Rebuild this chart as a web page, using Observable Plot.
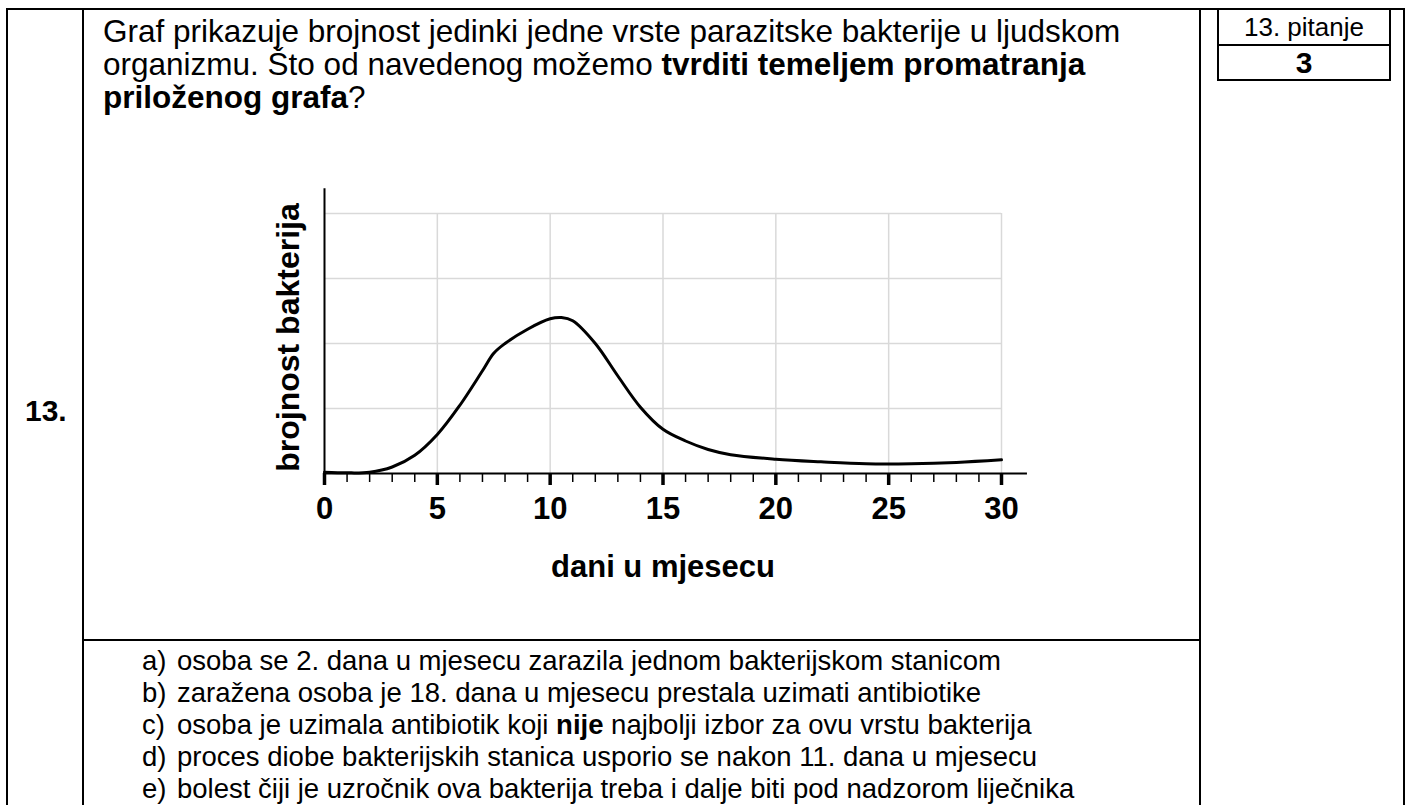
<!DOCTYPE html>
<html>
<head>
<meta charset="utf-8">
<script src="https://cdn.jsdelivr.net/npm/d3@7"></script>
<script src="https://cdn.jsdelivr.net/npm/@observablehq/plot@0.6"></script>
<style>
  html, body { margin: 0; padding: 0; background: #fff; }
  body { width: 1413px; height: 805px; position: relative; overflow: hidden;
         font-family: "Liberation Sans", Arial, sans-serif; color: #000; }
  .ln { position: absolute; background: #000; }
  .txt { position: absolute; white-space: nowrap; }
  #chart { position: absolute; left: 230px; top: 170px; }
</style>
</head>
<body>
<!-- table lines -->
<div class="ln" style="left:6px; top:8px; width:1399px; height:2px;"></div>
<div class="ln" style="left:6px; top:8px; width:2px; height:800px;"></div>
<div class="ln" style="left:82px; top:8px; width:2px; height:800px;"></div>
<div class="ln" style="left:1199px; top:8px; width:2px; height:800px;"></div>
<div class="ln" style="left:1403px; top:8px; width:2px; height:800px;"></div>
<div class="ln" style="left:82px; top:639px; width:1119px; height:2px;"></div>
<!-- score box -->
<div class="ln" style="left:1217px; top:8px; width:2px; height:73px;"></div>
<div class="ln" style="left:1389px; top:8px; width:2px; height:73px;"></div>
<div class="ln" style="left:1217px; top:44px; width:174px; height:2px;"></div>
<div class="ln" style="left:1217px; top:79px; width:174px; height:2px;"></div>
<div class="txt" style="left:1219px; width:170px; top:10px; text-align:center; font-size:26px; line-height:34px;">13. pitanje</div>
<div class="txt" style="left:1219px; width:170px; top:46px; text-align:center; font-size:30px; font-weight:bold; line-height:33px;">3</div>

<div class="txt" style="left:25px; top:393px; font-size:30px; font-weight:bold; line-height:36px;">13.</div>

<div id="question" class="txt" style="left:103px; top:15px; font-size:31.5px; line-height:33px;"></div>
<div id="answers" class="txt" style="left:142px; top:645px; font-size:27.5px; line-height:32px;"></div>

<div id="chart"></div>

<script>
// ---- data ----
const days =   [0,    1,    2,    3,   4,    5,   6,    7,    7.5,  8,   9,    10,   10.5, 11,   12,  13,  14,   15,   16,  17,   18,   20,   22,   24,   26,   28,   30];
const counts = [0.02, 0.01, 0.02, 0.1, 0.28, 0.6, 1.05, 1.58, 1.85, 2.0, 2.22, 2.38, 2.4,  2.35, 2.0, 1.5, 1.02, 0.68, 0.5, 0.37, 0.29, 0.22, 0.18, 0.15, 0.15, 0.17, 0.21];
const xTicks = [0, 5, 10, 15, 20, 25, 30];
const xMinorTicks = d3.range(0, 31);
const yGrid = [1, 2, 3, 4];
const xGrid = [5, 10, 15, 20, 25, 30];
const xLabel = "dani u mjesecu";
const yLabel = "brojnost bakterija";
const xAxisEnd = 31.15;
const yAxisEnd = 4.38;

const questionParts = [
  ["Graf prikazuje brojnost jedinki jedne vrste parazitske bakterije u ljudskom", false, true],
  ["organizmu. Što od navedenog možemo ", false, false],
  ["tvrditi temeljem promatranja", true, true],
  ["priloženog grafa", true, false],
  ["?", false, true]
];
const answerLetters = ["a)", "b)", "c)", "d)", "e)"];
const answers = [
  [["osoba se 2. dana u mjesecu zarazila jednom bakterijskom stanicom", false]],
  [["zaražena osoba je 18. dana u mjesecu prestala uzimati antibiotike", false]],
  [["osoba je uzimala antibiotik koji ", false], ["nije", true], [" najbolji izbor za ovu vrstu bakterija", false]],
  [["proces diobe bakterijskih stanica usporio se nakon 11. dana u mjesecu", false]],
  [["bolest čiji je uzročnik ova bakterija treba i dalje biti pod nadzorom liječnika", false]]
];

// ---- text ----
const q = document.getElementById("question");
for (const [t, b, br] of questionParts) {
  const s = document.createElement("span");
  s.textContent = t;
  if (b) s.style.fontWeight = "bold";
  q.appendChild(s);
  if (br) q.appendChild(document.createElement("br"));
}
const a = document.getElementById("answers");
answers.forEach((parts, i) => {
  const row = document.createElement("div");
  row.style.position = "relative";
  const l = document.createElement("span");
  l.textContent = answerLetters[i];
  l.style.display = "inline-block";
  l.style.width = "35px";
  row.appendChild(l);
  for (const [t, b] of parts) {
    const s = document.createElement("span");
    s.textContent = t;
    if (b) s.style.fontWeight = "bold";
    row.appendChild(s);
  }
  a.appendChild(row);
});

// ---- chart ----
const grid = "#d9d9d9";
const chart = Plot.plot({
  width: 820,
  height: 430,
  marginLeft: 94,
  marginRight: 49,
  marginTop: 43,
  marginBottom: 127,
  style: { fontFamily: "Liberation Sans, Arial, sans-serif", background: "transparent", overflow: "visible" },
  x: { domain: [0, 30], axis: null },
  y: { domain: [0, 4], axis: null },
  marks: [
    Plot.ruleY(yGrid, { x1: 0, x2: 30, stroke: grid, strokeWidth: 1.5 }),
    Plot.ruleX(xGrid, { y1: 0, y2: 4, stroke: grid, strokeWidth: 1.5 }),
    Plot.ruleY([0], { x1: 0, x2: xAxisEnd, stroke: "#000", strokeWidth: 2 }),
    Plot.ruleX([0], { y1: 0, y2: yAxisEnd, stroke: "#000", strokeWidth: 2 }),
    Plot.axisX({ ticks: xMinorTicks, tickSize: 9, strokeWidth: 1.5, text: null, label: null, stroke: "#000" }),
    Plot.axisX({ ticks: xTicks, tickSize: 12, strokeWidth: 3.5, text: null, label: null, stroke: "#000" }),
    Plot.text(xTicks, { x: d => d, y: 0, dy: 36, text: d => String(d), fontSize: 31, fontWeight: "bold", fill: "#000" }),
    Plot.text([xLabel], { x: 15, y: 0, dy: 94, text: d => d, fontSize: 31, fontWeight: "bold", fill: "#000" }),
    Plot.text([yLabel], { x: 0, y: 2, dx: -36, dy: -6, rotate: -90, text: d => d, fontSize: 32, fontWeight: "bold", fill: "#000" }),
    Plot.line(days.map((d, i) => ({ day: d, n: counts[i] })), { x: "day", y: "n", curve: "catmull-rom", stroke: "#000", strokeWidth: 3 })
  ]
});
document.getElementById("chart").appendChild(chart);
</script>
</body>
</html>
